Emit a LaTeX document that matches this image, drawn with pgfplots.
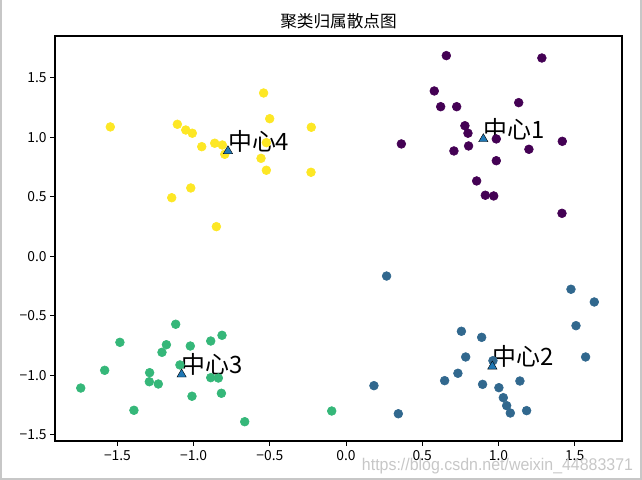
\documentclass[border=0pt]{standalone}
\usepackage{pgfplots}
\pgfplotsset{compat=1.18}
\usepackage{fontspec}
\setmainfont{Noto Sans CJK SC}
\newfontfamily\wmfont{Liberation Sans}
\definecolor{c1}{HTML}{440154}
\definecolor{c2}{HTML}{31688E}
\definecolor{c3}{HTML}{35B779}
\definecolor{c4}{HTML}{FDE725}
\definecolor{cen}{HTML}{1F77B4}
\begin{document}
\begin{tikzpicture}[x=1bp,y=1bp]
\path[use as bounding box] (0,0) rectangle (642,480);
\draw[color=black!22, line width=2bp] (1,480) -- (1,1) -- (641,1) -- (641,480);
\begin{axis}[
  at={(55bp,39bp)}, anchor=south west,
  width=567bp, height=405bp, scale only axis,
  xmin=-1.91, xmax=1.811, ymin=-1.552, ymax=1.851,
  axis line style={line width=1.1bp, black},
  tick style={line width=1.1bp, black},
  tick align=outside, major tick length=4.9bp,
  tick pos=left,
  xtick={-1.5,-1,-0.5,0,0.5,1,1.5},
  xticklabels={−1.5,−1.0,−0.5,0.0,0.5,1.0,1.5},
  ytick={-1.5,-1,-0.5,0,0.5,1,1.5},
  yticklabels={−1.5,−1.0,−0.5,0.0,0.5,1.0,1.5},
  ticklabel style={font=\fontsize{13.9}{16}\selectfont},
  xticklabel style={yshift=-1bp},
  only marks,
  clip=false,
]
\addplot[mark=*, mark size=4.4, mark options={draw=c1, fill=c1, line width=0.6bp}] coordinates {
(0.658,1.686) (1.285,1.666) (0.579,1.389) (0.621,1.257) (0.726,1.257)
(1.133,1.291) (0.780,1.097) (0.800,1.034) (0.804,0.927) (0.708,0.885)
(0.986,0.986) (1.200,0.899) (1.419,0.966) (0.363,0.944) (0.986,0.803)
(0.857,0.633) (0.914,0.513) (0.969,0.507) (1.417,0.361)
};
\addplot[mark=*, mark size=4.4, mark options={draw=c2, fill=c2, line width=0.6bp}] coordinates {
(0.266,-0.166) (1.476,-0.277) (1.629,-0.384) (1.509,-0.583) (1.572,-0.846)
(0.757,-0.630) (0.890,-0.681) (0.785,-0.846) (0.964,-0.877) (0.734,-0.983)
(0.647,-1.045) (0.896,-1.076) (1.003,-1.104) (1.141,-1.048) (1.032,-1.188)
(1.054,-1.255) (1.078,-1.317) (1.185,-1.297) (0.183,-1.087) (0.343,-1.323)
};
\addplot[mark=*, mark size=4.4, mark options={draw=c3, fill=c3, line width=0.6bp}] coordinates {
(-1.118,-0.571) (-1.484,-0.723) (-1.179,-0.743) (-1.208,-0.807) (-1.022,-0.754)
(-0.888,-0.712) (-0.814,-0.664) (-1.090,-0.913) (-1.584,-0.958) (-1.289,-0.978)
(-1.291,-1.054) (-1.232,-1.073) (-0.888,-1.020) (-0.838,-1.023) (-1.741,-1.107)
(-1.011,-1.176) (-0.818,-1.151) (-1.392,-1.294) (-0.665,-1.390) (-0.094,-1.300)
};
\addplot[mark=*, mark size=4.4, mark options={draw=c4, fill=c4, line width=0.6bp}] coordinates {
(-0.541,1.372) (-1.547,1.087) (-1.107,1.109) (-1.052,1.061) (-1.009,1.034)
(-0.501,1.156) (-0.228,1.084) (-0.947,0.921) (-0.862,0.950) (-0.812,0.935)
(-0.796,0.857) (-0.523,0.955) (-0.558,0.823) (-0.523,0.723) (-0.230,0.706)
(-1.019,0.574) (-1.144,0.492) (-0.851,0.249)
};
\addplot[mark=triangle*, mark size=5.4, mark options={draw=none, fill=cen}] coordinates {
(0.901,0.985) (0.960,-0.925) (-1.079,-0.992) (-0.775,0.884)
};
\node[anchor=base west, inner sep=0, font=\fontsize{24}{28}\selectfont] at (axis cs:0.901,0.99) {中心1};
\node[anchor=base west, inner sep=0, font=\fontsize{24}{28}\selectfont] at (axis cs:0.960,-0.916) {中心2};
\node[anchor=base west, inner sep=0, font=\fontsize{24}{28}\selectfont] at (axis cs:-1.079,-0.983) {中心3};
\node[anchor=base west, inner sep=0, font=\fontsize{24}{28}\selectfont] at (axis cs:-0.775,0.893) {中心4};
\end{axis}
\node[anchor=base, inner sep=0, font=\fontsize{16.7}{20}\selectfont] at (338.5,452) {聚类归属散点图};
\node[anchor=center, inner sep=0, text=black!22] at (497.5,13.4) {\resizebox{271bp}{\height}{\wmfont\fontsize{17}{20}\selectfont https://blog.csdn.net/weixin\_44883371}};
\end{tikzpicture}
\end{document}
